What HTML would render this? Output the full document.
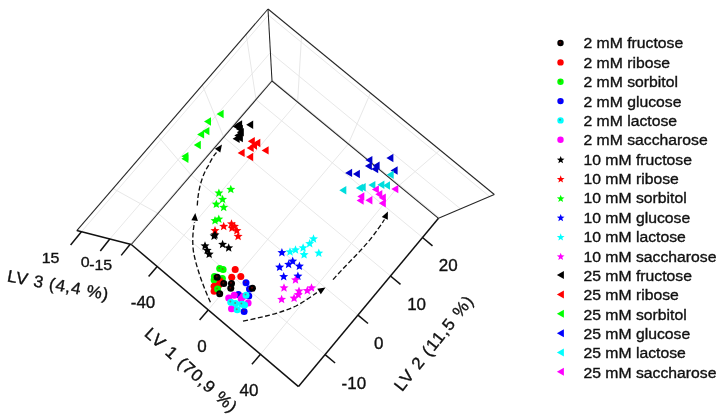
<!DOCTYPE html>
<html><head><meta charset="utf-8"><title>PLS-DA score plot</title>
<style>
html,body{margin:0;padding:0;background:#fff;}
svg{display:block;will-change:transform;}
text{font-family:"Liberation Sans",sans-serif;fill:#111;stroke:#111;stroke-width:.35px;}
.g{stroke:#e8e8e8;stroke-width:1;fill:none;}
.b{stroke:#262626;stroke-width:1.05;fill:none;}
.a{stroke:#111;stroke-width:1.5;fill:none;}
.d{stroke:#111;stroke-width:1.35;fill:none;stroke-dasharray:5 2.5;}
</style></head><body>
<svg width="726" height="418" viewBox="0 0 726 418">
<rect width="726" height="418" fill="#fff"/>
<line x1="157.2" y1="266.5" x2="297.6" y2="102.1" class="g"/>
<line x1="297.6" y1="102.1" x2="301.5" y2="36.5" class="g"/>
<line x1="208.2" y1="309.9" x2="348.3" y2="143.9" class="g"/>
<line x1="348.3" y1="143.9" x2="370.5" y2="93.0" class="g"/>
<line x1="260.5" y1="354.3" x2="398.9" y2="185.6" class="g"/>
<line x1="398.9" y1="185.6" x2="440.0" y2="150.0" class="g"/>
<line x1="325.1" y1="354.6" x2="158.0" y2="213.4" class="g"/>
<line x1="158.0" y1="213.4" x2="113.1" y2="188.5" class="g"/>
<line x1="358.0" y1="315.1" x2="191.1" y2="175.0" class="g"/>
<line x1="191.1" y1="175.0" x2="158.1" y2="136.4" class="g"/>
<line x1="390.5" y1="276.0" x2="223.7" y2="137.1" class="g"/>
<line x1="223.7" y1="137.1" x2="202.4" y2="85.0" class="g"/>
<line x1="422.5" y1="237.5" x2="256.0" y2="99.6" class="g"/>
<line x1="256.0" y1="99.6" x2="246.2" y2="34.3" class="g"/>
<line x1="81.4" y1="231.8" x2="268.3" y2="15.1" class="g"/>
<line x1="268.3" y1="15.1" x2="489.6" y2="196.5" class="g"/>
<line x1="109.8" y1="239.0" x2="270.4" y2="52.6" class="g"/>
<line x1="270.4" y1="52.6" x2="460.5" y2="208.9" class="g"/>
<line x1="130.2" y1="244.2" x2="271.9" y2="79.6" class="g"/>
<line x1="271.9" y1="79.6" x2="439.6" y2="217.8" class="g"/>
<line x1="268.0" y1="9.0" x2="76.8" y2="230.6" class="b"/>
<line x1="268.0" y1="9.0" x2="494.3" y2="194.5" class="b"/>
<line x1="268.0" y1="9.0" x2="272.0" y2="81.0" class="b"/>
<line x1="272.0" y1="81.0" x2="131.3" y2="244.5" class="b"/>
<line x1="272.0" y1="81.0" x2="438.5" y2="218.3" class="b"/>
<line x1="494.3" y1="194.5" x2="438.5" y2="218.3" class="b"/>
<line x1="76.8" y1="230.6" x2="131.3" y2="244.5" class="a"/>
<line x1="131.3" y1="244.5" x2="298.5" y2="386.6" class="a"/>
<line x1="298.5" y1="386.6" x2="438.5" y2="218.3" class="a"/>
<line x1="157.2" y1="266.5" x2="148.6" y2="276.5" class="a"/>
<line x1="208.2" y1="309.9" x2="199.6" y2="319.9" class="a"/>
<line x1="260.5" y1="354.3" x2="251.9" y2="364.3" class="a"/>
<line x1="325.1" y1="354.6" x2="335.1" y2="363.0" class="a"/>
<line x1="358.0" y1="315.1" x2="368.0" y2="323.5" class="a"/>
<line x1="390.5" y1="276.0" x2="400.5" y2="284.4" class="a"/>
<line x1="422.5" y1="237.5" x2="432.5" y2="245.9" class="a"/>
<line x1="81.4" y1="231.8" x2="70.6" y2="244.9" class="a"/>
<line x1="109.8" y1="239.0" x2="100.3" y2="251.0" class="a"/>
<line x1="130.2" y1="244.2" x2="121.2" y2="255.4" class="a"/>
<text x="0.0" y="0.0" font-size="15.5" text-anchor="middle" transform="translate(50.6 263.3) scale(1.030 1)">15</text>
<text x="0.0" y="0.0" font-size="15.5" text-anchor="middle" transform="translate(85.1 267.4) scale(1.030 1)">0</text>
<text x="0.0" y="0.0" font-size="15.5" text-anchor="middle" transform="translate(100.7 269.6) scale(1.030 1)">-15</text>
<text x="0.0" y="0.0" font-size="16.5" text-anchor="middle" transform="translate(143.0 308.3) scale(1.030 1)">-40</text>
<text x="0.0" y="0.0" font-size="16.5" text-anchor="middle" transform="translate(202.0 351.5) scale(1.030 1)">0</text>
<text x="0.0" y="0.0" font-size="16.5" text-anchor="middle" transform="translate(249.0 395.8) scale(1.030 1)">40</text>
<text x="0.0" y="0.0" font-size="16.5" text-anchor="middle" transform="translate(353.8 388.5) scale(1.030 1)">-10</text>
<text x="0.0" y="0.0" font-size="16.5" text-anchor="middle" transform="translate(378.7 349.0) scale(1.030 1)">0</text>
<text x="0.0" y="0.0" font-size="16.5" text-anchor="middle" transform="translate(416.6 309.6) scale(1.030 1)">10</text>
<text x="0.0" y="0.0" font-size="16.5" text-anchor="middle" transform="translate(448.3 271.2) scale(1.030 1)">20</text>
<text x="0.0" y="0.0" font-size="16.7" text-anchor="middle" letter-spacing="0.65" transform="translate(57.2 290.7) rotate(10.5) scale(1.040 1)">LV 3 (4,4 %)</text>
<text x="0.0" y="0.0" font-size="16.7" text-anchor="middle" letter-spacing="1.00" transform="translate(187.5 374.5) rotate(42.0) scale(1.040 1)">LV 1 (70,9 %)</text>
<text x="0.0" y="0.0" font-size="16.7" text-anchor="middle" letter-spacing="1.00" transform="translate(438.4 346.4) rotate(-51.5) scale(1.040 1)">LV 2 (11,5 %)</text>
<polygon points="216.6,114.0 223.6,109.8 223.6,118.2" fill="#0f0"/>
<polygon points="204.0,121.5 211.0,117.3 211.0,125.7" fill="#0f0"/>
<polygon points="202.4,131.1 209.4,126.9 209.4,135.3" fill="#0f0"/>
<polygon points="197.1,134.4 204.1,130.2 204.1,138.6" fill="#0f0"/>
<polygon points="193.8,145.0 200.8,140.8 200.8,149.2" fill="#0f0"/>
<polygon points="181.4,156.2 188.4,152.0 188.4,160.4" fill="#0f0"/>
<polygon points="181.4,158.7 188.4,154.5 188.4,162.9" fill="#0f0"/>
<polygon points="246.2,124.8 253.2,120.6 253.2,129.0" fill="#000"/>
<polygon points="235.1,124.5 242.1,120.3 242.1,128.7" fill="#000"/>
<polygon points="232.6,126.4 239.6,122.2 239.6,130.6" fill="#000"/>
<polygon points="235.9,128.9 242.9,124.7 242.9,133.1" fill="#000"/>
<polygon points="236.8,132.2 243.8,128.0 243.8,136.4" fill="#000"/>
<polygon points="234.3,135.5 241.3,131.3 241.3,139.7" fill="#000"/>
<polygon points="232.6,138.8 239.6,134.6 239.6,143.0" fill="#000"/>
<polygon points="235.9,138.0 242.9,133.8 242.9,142.2" fill="#000"/>
<polygon points="247.8,141.3 254.8,137.1 254.8,145.5" fill="#f00"/>
<polygon points="253.3,143.0 260.3,138.8 260.3,147.2" fill="#f00"/>
<polygon points="246.7,147.9 253.7,143.7 253.7,152.1" fill="#f00"/>
<polygon points="261.6,150.4 268.6,146.2 268.6,154.6" fill="#f00"/>
<polygon points="237.6,152.9 244.6,148.7 244.6,157.1" fill="#f00"/>
<polygon points="246.2,157.0 253.2,152.8 253.2,161.2" fill="#f00"/>
<polygon points="250.0,145.5 257.0,141.3 257.0,149.7" fill="#f00"/>
<polygon points="386.4,158.0 393.4,153.8 393.4,162.2" fill="#00c"/>
<polygon points="365.4,160.1 372.4,155.9 372.4,164.3" fill="#00c"/>
<polygon points="364.9,166.1 371.9,161.9 371.9,170.3" fill="#00c"/>
<polygon points="372.6,165.7 379.6,161.5 379.6,169.9" fill="#00c"/>
<polygon points="371.2,169.1 378.2,164.9 378.2,173.3" fill="#00c"/>
<polygon points="390.6,170.5 397.6,166.3 397.6,174.7" fill="#00c"/>
<polygon points="345.1,172.9 352.1,168.7 352.1,177.1" fill="#00c"/>
<polygon points="352.9,174.0 359.9,169.8 359.9,178.2" fill="#00c"/>
<polygon points="386.7,174.7 393.7,170.5 393.7,178.9" fill="#0dd"/>
<polygon points="339.3,190.2 346.3,186.0 346.3,194.4" fill="#0dd"/>
<polygon points="355.9,187.9 362.9,183.7 362.9,192.1" fill="#0dd"/>
<polygon points="358.7,187.2 365.7,183.0 365.7,191.4" fill="#0dd"/>
<polygon points="368.4,185.1 375.4,180.9 375.4,189.3" fill="#0dd"/>
<polygon points="377.4,184.7 384.4,180.5 384.4,188.9" fill="#0dd"/>
<polygon points="383.0,185.5 390.0,181.3 390.0,189.7" fill="#0dd"/>
<polygon points="391.3,189.1 398.3,184.9 398.3,193.3" fill="#f0f"/>
<polygon points="371.9,189.4 378.9,185.2 378.9,193.6" fill="#f0f"/>
<polygon points="357.3,196.4 364.3,192.2 364.3,200.6" fill="#f0f"/>
<polygon points="356.6,200.5 363.6,196.3 363.6,204.7" fill="#f0f"/>
<polygon points="365.4,200.2 372.4,196.0 372.4,204.4" fill="#f0f"/>
<polygon points="375.3,194.3 382.3,190.1 382.3,198.5" fill="#f0f"/>
<polygon points="378.8,197.7 385.8,193.5 385.8,201.9" fill="#f0f"/>
<polygon points="378.8,203.3 385.8,199.1 385.8,207.5" fill="#f0f"/>
<polygon points="230.8,184.8 232.0,187.8 235.3,188.0 232.8,190.1 233.6,193.3 230.8,191.6 228.0,193.3 228.8,190.1 226.3,188.0 229.6,187.8" fill="#0f0"/>
<polygon points="218.9,188.4 220.1,191.4 223.4,191.6 220.9,193.7 221.7,196.9 218.9,195.2 216.1,196.9 216.9,193.7 214.4,191.6 217.7,191.4" fill="#0f0"/>
<polygon points="222.6,194.7 223.8,197.7 227.1,197.9 224.6,200.0 225.4,203.2 222.6,201.5 219.8,203.2 220.6,200.0 218.1,197.9 221.4,197.7" fill="#0f0"/>
<polygon points="216.3,199.6 217.5,202.6 220.8,202.8 218.3,204.9 219.1,208.1 216.3,206.4 213.5,208.1 214.3,204.9 211.8,202.8 215.1,202.6" fill="#0f0"/>
<polygon points="223.7,202.8 224.9,205.8 228.2,206.0 225.7,208.1 226.5,211.3 223.7,209.6 220.9,211.3 221.7,208.1 219.2,206.0 222.5,205.8" fill="#0f0"/>
<polygon points="215.0,216.0 216.2,219.0 219.5,219.2 217.0,221.3 217.8,224.5 215.0,222.8 212.2,224.5 213.0,221.3 210.5,219.2 213.8,219.0" fill="#0f0"/>
<polygon points="218.8,214.5 220.0,217.5 223.3,217.7 220.8,219.8 221.6,223.0 218.8,221.3 216.0,223.0 216.8,219.8 214.3,217.7 217.6,217.5" fill="#0f0"/>
<polygon points="223.7,221.8 224.9,224.8 228.2,225.0 225.7,227.1 226.5,230.3 223.7,228.6 220.9,230.3 221.7,227.1 219.2,225.0 222.5,224.8" fill="#f00"/>
<polygon points="231.5,219.3 232.7,222.3 236.0,222.5 233.5,224.6 234.3,227.8 231.5,226.1 228.7,227.8 229.5,224.6 227.0,222.5 230.3,222.3" fill="#f00"/>
<polygon points="232.0,223.5 233.2,226.5 236.5,226.7 234.0,228.8 234.8,232.0 232.0,230.3 229.2,232.0 230.0,228.8 227.5,226.7 230.8,226.5" fill="#f00"/>
<polygon points="236.9,226.0 238.1,229.0 241.4,229.2 238.9,231.3 239.7,234.5 236.9,232.8 234.1,234.5 234.9,231.3 232.4,229.2 235.7,229.0" fill="#f00"/>
<polygon points="238.1,231.7 239.3,234.7 242.6,234.9 240.1,237.0 240.9,240.2 238.1,238.5 235.3,240.2 236.1,237.0 233.6,234.9 236.9,234.7" fill="#f00"/>
<polygon points="215.0,226.0 216.2,229.0 219.5,229.2 217.0,231.3 217.8,234.5 215.0,232.8 212.2,234.5 213.0,231.3 210.5,229.2 213.8,229.0" fill="#f00"/>
<polygon points="234.5,221.8 235.7,224.8 239.0,225.0 236.5,227.1 237.3,230.3 234.5,228.6 231.7,230.3 232.5,227.1 230.0,225.0 233.3,224.8" fill="#f00"/>
<polygon points="214.1,231.4 215.3,234.4 218.6,234.6 216.1,236.7 216.9,239.9 214.1,238.2 211.3,239.9 212.1,236.7 209.6,234.6 212.9,234.4" fill="#000"/>
<polygon points="222.6,239.7 223.8,242.7 227.1,242.9 224.6,245.0 225.4,248.2 222.6,246.5 219.8,248.2 220.6,245.0 218.1,242.9 221.4,242.7" fill="#000"/>
<polygon points="228.7,243.3 229.9,246.3 233.2,246.5 230.7,248.6 231.5,251.8 228.7,250.1 225.9,251.8 226.7,248.6 224.2,246.5 227.5,246.3" fill="#000"/>
<polygon points="205.0,241.3 206.2,244.3 209.5,244.5 207.0,246.6 207.8,249.8 205.0,248.1 202.2,249.8 203.0,246.6 200.5,244.5 203.8,244.3" fill="#000"/>
<polygon points="207.2,245.8 208.4,248.8 211.7,249.0 209.2,251.1 210.0,254.3 207.2,252.6 204.4,254.3 205.2,251.1 202.7,249.0 206.0,248.8" fill="#000"/>
<polygon points="209.2,249.6 210.4,252.6 213.7,252.8 211.2,254.9 212.0,258.1 209.2,256.4 206.4,258.1 207.2,254.9 204.7,252.8 208.0,252.6" fill="#000"/>
<polygon points="215.0,230.3 216.2,233.3 219.5,233.5 217.0,235.6 217.8,238.8 215.0,237.1 212.2,238.8 213.0,235.6 210.5,233.5 213.8,233.3" fill="#000"/>
<polygon points="313.5,234.2 314.7,237.2 318.0,237.4 315.5,239.5 316.3,242.7 313.5,241.0 310.7,242.7 311.5,239.5 309.0,237.4 312.3,237.2" fill="#0ff"/>
<polygon points="309.7,239.0 310.9,242.0 314.2,242.2 311.7,244.3 312.5,247.5 309.7,245.8 306.9,247.5 307.7,244.3 305.2,242.2 308.5,242.0" fill="#0ff"/>
<polygon points="303.1,243.2 304.3,246.2 307.6,246.4 305.1,248.5 305.9,251.7 303.1,250.0 300.3,251.7 301.1,248.5 298.6,246.4 301.9,246.2" fill="#0ff"/>
<polygon points="295.5,245.3 296.7,248.3 300.0,248.5 297.5,250.6 298.3,253.8 295.5,252.1 292.7,253.8 293.5,250.6 291.0,248.5 294.3,248.3" fill="#0ff"/>
<polygon points="290.0,247.3 291.2,250.3 294.5,250.5 292.0,252.6 292.8,255.8 290.0,254.1 287.2,255.8 288.0,252.6 285.5,250.5 288.8,250.3" fill="#0ff"/>
<polygon points="304.1,250.1 305.3,253.1 308.6,253.3 306.1,255.4 306.9,258.6 304.1,256.9 301.3,258.6 302.1,255.4 299.6,253.3 302.9,253.1" fill="#0ff"/>
<polygon points="318.8,248.5 320.0,251.5 323.3,251.7 320.8,253.8 321.6,257.0 318.8,255.3 316.0,257.0 316.8,253.8 314.3,251.7 317.6,251.5" fill="#0ff"/>
<polygon points="281.9,248.0 283.1,251.0 286.4,251.2 283.9,253.3 284.7,256.5 281.9,254.8 279.1,256.5 279.9,253.3 277.4,251.2 280.7,251.0" fill="#00f"/>
<polygon points="292.7,256.6 293.9,259.6 297.2,259.8 294.7,261.9 295.5,265.1 292.7,263.4 289.9,265.1 290.7,261.9 288.2,259.8 291.5,259.6" fill="#00f"/>
<polygon points="288.6,259.8 289.8,262.8 293.1,263.0 290.6,265.1 291.4,268.3 288.6,266.6 285.8,268.3 286.6,265.1 284.1,263.0 287.4,262.8" fill="#00f"/>
<polygon points="299.4,261.6 300.6,264.6 303.9,264.8 301.4,266.9 302.2,270.1 299.4,268.4 296.6,270.1 297.4,266.9 294.9,264.8 298.2,264.6" fill="#00f"/>
<polygon points="279.6,262.6 280.8,265.6 284.1,265.8 281.6,267.9 282.4,271.1 279.6,269.4 276.8,271.1 277.6,267.9 275.1,265.8 278.4,265.6" fill="#00f"/>
<polygon points="283.7,272.0 284.9,275.0 288.2,275.2 285.7,277.3 286.5,280.5 283.7,278.8 280.9,280.5 281.7,277.3 279.2,275.2 282.5,275.0" fill="#00f"/>
<polygon points="297.9,271.6 299.1,274.6 302.4,274.8 299.9,276.9 300.7,280.1 297.9,278.4 295.1,280.1 295.9,276.9 293.4,274.8 296.7,274.6" fill="#00f"/>
<polygon points="295.5,275.3 296.7,278.3 300.0,278.5 297.5,280.6 298.3,283.8 295.5,282.1 292.7,283.8 293.5,280.6 291.0,278.5 294.3,278.3" fill="#f0f"/>
<polygon points="284.0,283.2 285.2,286.2 288.5,286.4 286.0,288.5 286.8,291.7 284.0,290.0 281.2,291.7 282.0,288.5 279.5,286.4 282.8,286.2" fill="#f0f"/>
<polygon points="299.0,286.4 300.2,289.4 303.5,289.6 301.0,291.7 301.8,294.9 299.0,293.2 296.2,294.9 297.0,291.7 294.5,289.6 297.8,289.4" fill="#f0f"/>
<polygon points="307.3,286.0 308.5,289.0 311.8,289.2 309.3,291.3 310.1,294.5 307.3,292.8 304.5,294.5 305.3,291.3 302.8,289.2 306.1,289.0" fill="#f0f"/>
<polygon points="311.5,283.2 312.7,286.2 316.0,286.4 313.5,288.5 314.3,291.7 311.5,290.0 308.7,291.7 309.5,288.5 307.0,286.4 310.3,286.2" fill="#f0f"/>
<polygon points="298.3,290.1 299.5,293.1 302.8,293.3 300.3,295.4 301.1,298.6 298.3,296.9 295.5,298.6 296.3,295.4 293.8,293.3 297.1,293.1" fill="#f0f"/>
<polygon points="294.1,293.6 295.3,296.6 298.6,296.8 296.1,298.9 296.9,302.1 294.1,300.4 291.3,302.1 292.1,298.9 289.6,296.8 292.9,296.6" fill="#f0f"/>
<polygon points="281.6,294.7 282.8,297.7 286.1,297.9 283.6,300.0 284.4,303.2 281.6,301.5 278.8,303.2 279.6,300.0 277.1,297.9 280.4,297.7" fill="#f0f"/>
<circle cx="219.7" cy="268.5" r="3.5" fill="#0f0"/><circle cx="219.2" cy="267.9" r="1.0" fill="#c00" fill-opacity=".45"/>
<circle cx="223.1" cy="269.6" r="3.5" fill="#0f0"/><circle cx="222.6" cy="269.0" r="1.0" fill="#c00" fill-opacity=".45"/>
<circle cx="214.4" cy="276.5" r="3.5" fill="#0f0"/><circle cx="213.9" cy="275.9" r="1.0" fill="#c00" fill-opacity=".45"/>
<circle cx="222.4" cy="278.6" r="3.5" fill="#0f0"/><circle cx="221.9" cy="278.0" r="1.0" fill="#c00" fill-opacity=".45"/>
<circle cx="214.1" cy="280.0" r="3.5" fill="#0f0"/><circle cx="213.6" cy="279.4" r="1.0" fill="#c00" fill-opacity=".45"/>
<circle cx="235.2" cy="269.6" r="3.5" fill="#f00"/>
<circle cx="231.7" cy="277.2" r="3.5" fill="#f00"/>
<circle cx="240.8" cy="276.5" r="3.5" fill="#f00"/>
<circle cx="220.4" cy="281.4" r="3.5" fill="#f00"/>
<circle cx="214.1" cy="286.2" r="3.5" fill="#f00"/>
<circle cx="214.1" cy="291.3" r="3.5" fill="#f00"/>
<circle cx="219.0" cy="284.8" r="3.5" fill="#f00"/>
<circle cx="217.6" cy="289.0" r="3.5" fill="#0f0"/><circle cx="217.1" cy="288.4" r="1.0" fill="#c00" fill-opacity=".45"/>
<circle cx="217.2" cy="277.2" r="3.5" fill="#000"/><circle cx="216.7" cy="276.6" r="1.0" fill="#c00" fill-opacity=".45"/>
<circle cx="223.8" cy="283.4" r="3.5" fill="#000"/><circle cx="223.3" cy="282.8" r="1.0" fill="#c00" fill-opacity=".45"/>
<circle cx="231.5" cy="283.4" r="3.5" fill="#000"/><circle cx="231.0" cy="282.8" r="1.0" fill="#c00" fill-opacity=".45"/>
<circle cx="230.8" cy="288.3" r="3.5" fill="#000"/><circle cx="230.3" cy="287.7" r="1.0" fill="#c00" fill-opacity=".45"/>
<circle cx="219.7" cy="293.8" r="3.5" fill="#000"/><circle cx="219.2" cy="293.2" r="1.0" fill="#c00" fill-opacity=".45"/>
<circle cx="246.0" cy="282.7" r="3.5" fill="#00f"/><circle cx="245.5" cy="282.1" r="1.0" fill="#c00" fill-opacity=".45"/>
<circle cx="249.5" cy="289.0" r="3.5" fill="#00f"/><circle cx="249.0" cy="288.4" r="1.0" fill="#c00" fill-opacity=".45"/>
<circle cx="248.8" cy="295.9" r="3.5" fill="#00f"/><circle cx="248.3" cy="295.3" r="1.0" fill="#c00" fill-opacity=".45"/>
<circle cx="238.4" cy="294.5" r="3.5" fill="#00f"/><circle cx="237.9" cy="293.9" r="1.0" fill="#c00" fill-opacity=".45"/>
<circle cx="244.1" cy="311.4" r="3.5" fill="#00f"/><circle cx="243.6" cy="310.8" r="1.0" fill="#c00" fill-opacity=".45"/>
<circle cx="252.5" cy="288.3" r="3.5" fill="#000"/><circle cx="252.0" cy="287.7" r="1.0" fill="#c00" fill-opacity=".45"/>
<circle cx="228.7" cy="298.0" r="3.5" fill="#f0f"/>
<circle cx="234.2" cy="295.2" r="3.5" fill="#f0f"/>
<circle cx="241.2" cy="298.7" r="3.5" fill="#f0f"/>
<circle cx="248.1" cy="302.9" r="3.5" fill="#f0f"/>
<circle cx="231.5" cy="308.8" r="3.5" fill="#f0f"/>
<circle cx="243.2" cy="296.6" r="3.5" fill="#f0f"/>
<circle cx="230.8" cy="302.2" r="3.5" fill="#0ff"/><circle cx="230.3" cy="301.6" r="1.0" fill="#c00" fill-opacity=".45"/>
<circle cx="235.6" cy="303.5" r="3.5" fill="#0ff"/><circle cx="235.1" cy="302.9" r="1.0" fill="#c00" fill-opacity=".45"/>
<circle cx="244.6" cy="304.9" r="3.5" fill="#0ff"/><circle cx="244.1" cy="304.3" r="1.0" fill="#c00" fill-opacity=".45"/>
<circle cx="246.0" cy="295.2" r="3.5" fill="#0ff"/><circle cx="245.5" cy="294.6" r="1.0" fill="#c00" fill-opacity=".45"/>
<circle cx="237.2" cy="309.8" r="3.5" fill="#0ff"/><circle cx="236.7" cy="309.2" r="1.0" fill="#c00" fill-opacity=".45"/>
<circle cx="241.9" cy="304.2" r="3.5" fill="#0ff"/><circle cx="241.4" cy="303.6" r="1.0" fill="#c00" fill-opacity=".45"/>
<path class="d" d="M210.4 302.2 C204 288 197 270 193.5 252 C192 240 193 231 194.5 222"/>
<polygon points="195.3,213.0 197.9,220.9 191.4,220.3" fill="#000"/>
<path class="d" d="M197.3 205.5 C198 190 202 175 208.8 165 C211 160 214 155 216.5 152.5"/>
<polygon points="222.0,144.5 220.3,152.6 214.9,148.8" fill="#000"/>
<path class="d" d="M243 321.2 C262 317 280 313.5 296 306 C306 300.5 312 296 317 292.5"/>
<polygon points="325.5,287.5 320.8,294.3 317.3,288.7" fill="#000"/>
<path class="d" d="M333 279.6 C345 266 358 254 369.6 240.2 C376 232 381 225 384.5 219.5"/>
<polygon points="387.9,211.5 387.8,219.8 381.8,217.1" fill="#000"/>
<circle cx="560.5" cy="43.0" r="3.2" fill="#000"/><circle cx="560.0" cy="42.4" r="1.0" fill="#c00" fill-opacity=".45"/>
<text x="0.0" y="0.0" font-size="15.0" text-anchor="start" transform="translate(583.5 48.4) scale(1.050 1)">2 mM fructose</text>
<circle cx="560.5" cy="62.4" r="3.2" fill="#f00"/>
<text x="0.0" y="0.0" font-size="15.0" text-anchor="start" transform="translate(583.5 67.8) scale(1.050 1)">2 mM ribose</text>
<circle cx="560.5" cy="81.7" r="3.2" fill="#0f0"/><circle cx="560.0" cy="81.1" r="1.0" fill="#c00" fill-opacity=".45"/>
<text x="0.0" y="0.0" font-size="15.0" text-anchor="start" transform="translate(583.5 87.2) scale(1.050 1)">2 mM sorbitol</text>
<circle cx="560.5" cy="101.1" r="3.2" fill="#00f"/><circle cx="560.0" cy="100.5" r="1.0" fill="#c00" fill-opacity=".45"/>
<text x="0.0" y="0.0" font-size="15.0" text-anchor="start" transform="translate(583.5 106.5) scale(1.050 1)">2 mM glucose</text>
<circle cx="560.5" cy="120.4" r="3.2" fill="#0ff"/><circle cx="560.0" cy="119.8" r="1.0" fill="#c00" fill-opacity=".45"/>
<text x="0.0" y="0.0" font-size="15.0" text-anchor="start" transform="translate(583.5 125.9) scale(1.050 1)">2 mM lactose</text>
<circle cx="560.5" cy="139.8" r="3.2" fill="#f0f"/>
<text x="0.0" y="0.0" font-size="15.0" text-anchor="start" transform="translate(583.5 145.3) scale(1.050 1)">2 mM saccharose</text>
<polygon points="560.7,156.0 561.7,158.6 564.5,158.8 562.3,160.5 563.1,163.2 560.7,161.7 558.3,163.2 559.1,160.5 556.9,158.8 559.7,158.6" fill="#000"/>
<text x="0.0" y="0.0" font-size="15.0" text-anchor="start" transform="translate(583.5 164.7) scale(1.050 1)">10 mM fructose</text>
<polygon points="560.7,175.3 561.7,178.0 564.5,178.1 562.3,179.9 563.1,182.6 560.7,181.0 558.3,182.6 559.1,179.9 556.9,178.1 559.7,178.0" fill="#f00"/>
<text x="0.0" y="0.0" font-size="15.0" text-anchor="start" transform="translate(583.5 184.0) scale(1.050 1)">10 mM ribose</text>
<polygon points="560.7,194.7 561.7,197.3 564.5,197.4 562.3,199.2 563.1,201.9 560.7,200.4 558.3,201.9 559.1,199.2 556.9,197.4 559.7,197.3" fill="#0f0"/>
<text x="0.0" y="0.0" font-size="15.0" text-anchor="start" transform="translate(583.5 203.4) scale(1.050 1)">10 mM sorbitol</text>
<polygon points="560.7,214.0 561.7,216.6 564.5,216.8 562.3,218.5 563.1,221.2 560.7,219.7 558.3,221.2 559.1,218.5 556.9,216.8 559.7,216.6" fill="#00f"/>
<text x="0.0" y="0.0" font-size="15.0" text-anchor="start" transform="translate(583.5 222.8) scale(1.050 1)">10 mM glucose</text>
<polygon points="560.7,233.3 561.7,236.0 564.5,236.1 562.3,237.9 563.1,240.6 560.7,239.0 558.3,240.6 559.1,237.9 556.9,236.1 559.7,236.0" fill="#0ff"/>
<text x="0.0" y="0.0" font-size="15.0" text-anchor="start" transform="translate(583.5 242.2) scale(1.050 1)">10 mM lactose</text>
<polygon points="560.7,252.7 561.7,255.3 564.5,255.5 562.3,257.2 563.1,259.9 560.7,258.4 558.3,259.9 559.1,257.2 556.9,255.5 559.7,255.3" fill="#f0f"/>
<text x="0.0" y="0.0" font-size="15.0" text-anchor="start" transform="translate(583.5 261.5) scale(1.050 1)">10 mM saccharose</text>
<polygon points="556.9,275.1 563.9,271.1 563.9,279.1" fill="#000"/>
<text x="0.0" y="0.0" font-size="15.0" text-anchor="start" transform="translate(583.5 280.9) scale(1.050 1)">25 mM fructose</text>
<polygon points="556.9,294.5 563.9,290.5 563.9,298.5" fill="#f00"/>
<text x="0.0" y="0.0" font-size="15.0" text-anchor="start" transform="translate(583.5 300.3) scale(1.050 1)">25 mM ribose</text>
<polygon points="556.9,313.8 563.9,309.8 563.9,317.8" fill="#0f0"/>
<text x="0.0" y="0.0" font-size="15.0" text-anchor="start" transform="translate(583.5 319.7) scale(1.050 1)">25 mM sorbitol</text>
<polygon points="556.9,333.2 563.9,329.2 563.9,337.2" fill="#00f"/>
<text x="0.0" y="0.0" font-size="15.0" text-anchor="start" transform="translate(583.5 339.0) scale(1.050 1)">25 mM glucose</text>
<polygon points="556.9,352.5 563.9,348.5 563.9,356.5" fill="#0ff"/>
<text x="0.0" y="0.0" font-size="15.0" text-anchor="start" transform="translate(583.5 358.4) scale(1.050 1)">25 mM lactose</text>
<polygon points="556.9,371.8 563.9,367.8 563.9,375.8" fill="#f0f"/>
<text x="0.0" y="0.0" font-size="15.0" text-anchor="start" transform="translate(583.5 377.8) scale(1.050 1)">25 mM saccharose</text>
</svg>
</body></html>
